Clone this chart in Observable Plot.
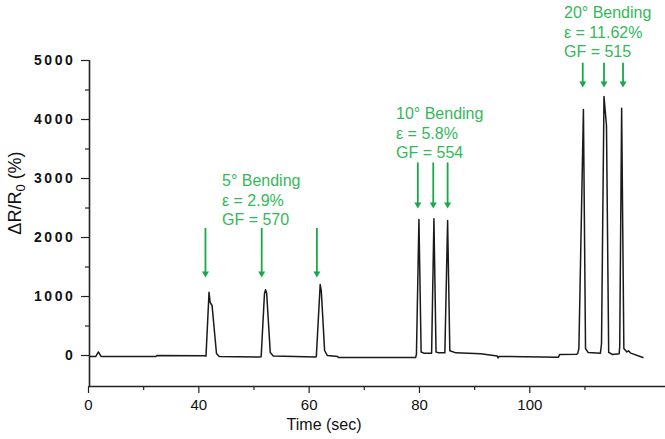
<!DOCTYPE html>
<html>
<head>
<meta charset="utf-8">
<script src="https://cdn.jsdelivr.net/npm/d3@7"></script>
<script src="https://cdn.jsdelivr.net/npm/@observablehq/plot@0.6"></script>
<style>
  html, body { margin: 0; padding: 0; background: #fff; }
  #chart svg { display: block; }
  #chart g[aria-label="y-axis tick label"] text { letter-spacing: 2.6px; }
</style>
</head>
<body>
<div id="chart"></div>
<script>
// ---- data (time in axis units: the tick labelled "0" sits at 20) ----
const time = [20.2, 21.3, 21.8, 22.3, 32.2, 32.4, 40.9, 41.3, 41.85, 42.05, 42.4, 43.2, 43.7,
  51.0, 51.3, 51.9, 52.1, 52.3, 52.95, 53.5,
  61.2, 61.3, 62.0, 62.2, 62.8, 63.3, 65.2, 65.3,
  79.3, 79.45, 79.9, 80.3, 80.8, 82.2, 82.62, 83.0, 83.5, 84.6, 85.1, 85.5, 86.6,
  91.1, 94.1, 94.25, 94.4, 105.2, 105.4, 108.5, 108.7, 108.9, 109.72, 110.1, 110.6,
  112.8, 113.0, 113.45, 113.9, 114.3, 115.0, 116.2, 116.3, 116.65, 117.05, 117.6, 117.9, 118.3, 120.5];
const response = [-17, -17, 60, -17, -17, 0, -5, -10, 1073, 900, 848, 34, -17,
  -25, -20, 1050, 1114, 1050, 51, -8,
  -25, -20, 1203, 1100, 85, 0, -17, -34,
  -34, 20, 2305, 60, 40, 40, 2317, 60, 45, 45, 2288, 80, 45,
  30, -10, -40, -15, -29, 17, 20, 40, 120, 4170, 119, 50,
  40, 200, 4390, 3898, 52, 17, 30, 150, 4192, 119, 60, 80, 40, -34];

const xDomain = [20.18, 124.6];
const yDomain = [-525, 5000];
const xTickValues = [20, 40, 60, 80, 100];
const xTickLabels = ["0", "40", "60", "80", "100"];
const xMinorTicks = [30, 50, 70, 90, 110];
const yTicks = [0, 1000, 2000, 3000, 4000, 5000];
const yMinorTicks = [500, 1500, 2500, 3500, 4500];

// annotations
const labels = ["5° Bending\nε = 2.9%\nGF = 570", "10° Bending\nε = 5.8%\nGF = 554", "20° Bending\nε = 11.62%\nGF = 515"];
const labelX = [44.2, 75.75, 106.2];
const labelY = [3051, 4187, 5899];
const arrowX = [41.2, 51.4, 61.4, 79.7, 82.5, 85.1, 109.6, 113.45, 116.9];
const arrowTop = [2119, 2119, 2119, 3230, 3230, 3230, 4920, 4920, 4920];
const arrowTip = [1322, 1322, 1322, 2492, 2492, 2492, 4543, 4543, 4543];

const trace = time.map((t, i) => ({t, v: response[i]}));
const arrows = arrowX.map((x, i) => ({x, top: arrowTop[i], tip: arrowTip[i]}));
const notes = labels.map((text, i) => ({text, x: labelX[i], y: labelY[i]}));

const textGreen = "#34b85a";
const arrowGreen = "#19a84a";

const svg = Plot.plot({
  width: 665,
  height: 439,
  marginLeft: 89,
  marginRight: 0,
  marginTop: 60,
  marginBottom: 53,
  style: {fontFamily: "'Liberation Sans', Arial, sans-serif", color: "#111", background: "#fff", overflow: "visible"},
  x: {domain: xDomain, axis: null},
  y: {domain: yDomain, axis: null},
  marks: [
    Plot.axisY(yTicks, {tickSize: 8, tickPadding: 6, fontSize: 14, fontWeight: "bold", stroke: "#222", strokeWidth: 1.2,
      tickFormat: (d) => String(d)}),
    Plot.axisY(yMinorTicks, {tickSize: 4, text: null, stroke: "#222", strokeWidth: 1.2}),
    Plot.axisX(xTickValues, {tickSize: 7, tickPadding: 6, fontSize: 15, stroke: "#222", strokeWidth: 1.2,
      tickFormat: (d) => xTickLabels[xTickValues.indexOf(d)]}),
    Plot.axisX(xMinorTicks, {tickSize: 4, text: null, stroke: "#222", strokeWidth: 1.2}),
    Plot.ruleY([yDomain[0]], {stroke: "#222", strokeWidth: 1.6}),
    Plot.ruleX([xDomain[0]], {stroke: "#222", strokeWidth: 1.6}),
    Plot.line(trace, {x: "t", y: "v", stroke: "#1a1a1a", strokeWidth: 1.5}),
    Plot.ruleX(arrows, {x: "x", y1: "top", y2: "tip", stroke: arrowGreen, strokeWidth: 1.8, dy: -2}),
    Plot.dot(arrows, {x: "x", y: "tip", symbol: "triangle", rotate: 180, r: 2.6, fill: arrowGreen, stroke: "none", dy: -4}),
    Plot.text(notes, {x: "x", y: "y", text: "text", textAnchor: "start", lineAnchor: "top", lineHeight: 1.22,
      fontSize: 16, fill: textGreen, dy: -3}),
    Plot.text(["Time (sec)"], {x: 62.7, frameAnchor: "bottom", dy: 43, fontSize: 16, fill: "#111"})
  ]
});

// y-axis title with subscript
const sel = d3.select(svg);
const yl = sel.append("text")
  .attr("transform", "translate(21,193) rotate(-90)")
  .attr("text-anchor", "middle")
  .attr("font-size", 18)
  .attr("fill", "#111")
  .attr("font-family", "'Liberation Sans', Arial, sans-serif");
yl.append("tspan").text("ΔR/R");
yl.append("tspan").attr("font-size", 13).attr("dy", 4).text("0");
yl.append("tspan").attr("dy", -4).text(" (%)");

document.getElementById("chart").appendChild(svg);
</script>
</body>
</html>
